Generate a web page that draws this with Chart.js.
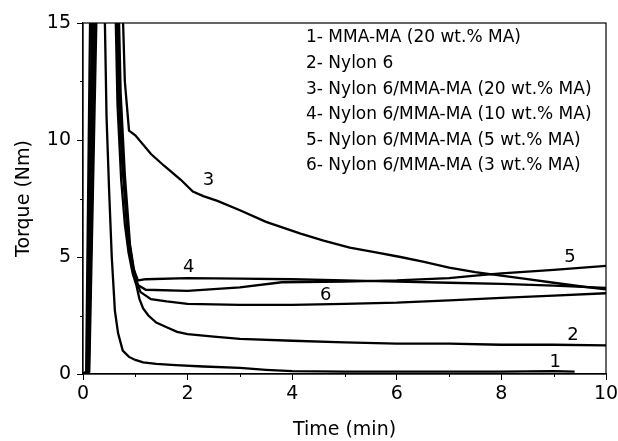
<!DOCTYPE html>
<html>
<head>
<meta charset="utf-8">
<script src="https://cdn.jsdelivr.net/npm/chart.js@4.4.1/dist/chart.umd.min.js"></script>
<style>
  body { margin: 0; background: #fff; }
  canvas { display: block; }
</style>
</head>
<body>
<canvas id="torqueChart" width="618" height="441"></canvas>
<script>
// series: time (min) and torque (Nm)
const time1 = [0, 0.06, 0.16, 0.38, 0.45, 0.5, 0.55, 0.61, 0.67, 0.76, 0.88, 1.0, 1.15, 1.4, 1.77, 2.3, 3, 3.5, 4, 5, 6, 7, 8, 9, 9.4];
const torque1 = [0, 0.1, 20, 20, 11, 7.8, 5.0, 2.7, 1.75, 1.0, 0.73, 0.6, 0.5, 0.43, 0.38, 0.32, 0.26, 0.18, 0.12, 0.1, 0.1, 0.1, 0.1, 0.12, 0.1];

const time2 = [0, 0.08, 0.2, 0.58, 0.66, 0.73, 0.8, 0.87, 0.95, 1.02, 1.08, 1.15, 1.25, 1.4, 1.6, 1.8, 2.0, 2.5, 3, 4, 5, 6, 7, 8, 9, 10];
const torque2 = [0, 0.1, 20, 20, 11.5, 8.3, 6.4, 5.2, 4.3, 3.8, 3.2, 2.8, 2.5, 2.2, 2.0, 1.8, 1.7, 1.6, 1.5, 1.42, 1.35, 1.3, 1.3, 1.25, 1.25, 1.22];

const time3 = [0, 0.12, 0.3, 0.7, 0.8, 0.88, 1.0, 1.3, 1.55, 1.87, 2.1, 2.3, 2.57, 3.0, 3.5, 4.16, 4.6, 5.1, 5.6, 6.07, 6.5, 7.0, 7.5, 8.0, 8.5, 9.0, 9.5, 10];
const torque3 = [0, 0.1, 20, 20, 12.5, 10.4, 10.2, 9.4, 8.9, 8.3, 7.8, 7.6, 7.4, 7.0, 6.5, 6.0, 5.7, 5.4, 5.2, 5.0, 4.8, 4.55, 4.35, 4.2, 4.05, 3.9, 3.75, 3.62];

const time4 = [0, 0.1, 0.26, 0.6, 0.68, 0.75, 0.85, 0.95, 1.05, 1.2, 2, 3, 4, 5, 6, 7, 8, 9, 10];
const torque4 = [0, 0.1, 20, 20, 12, 9, 6, 4.6, 4.0, 4.05, 4.1, 4.08, 4.05, 4.0, 3.95, 3.9, 3.85, 3.78, 3.68];

const time5 = [0, 0.09, 0.23, 0.62, 0.7, 0.77, 0.87, 0.97, 1.05, 1.2, 2, 3, 3.8, 5, 6, 7, 7.5, 8, 9, 10];
const torque5 = [0, 0.1, 20, 20, 12, 9, 5.8, 4.4, 3.8, 3.6, 3.55, 3.7, 3.92, 3.95, 4.0, 4.1, 4.2, 4.3, 4.45, 4.62];

const time6 = [0, 0.11, 0.28, 0.64, 0.72, 0.8, 0.9, 1.0, 1.1, 1.3, 1.6, 2, 3, 4, 5, 6, 7, 8, 9, 10];
const torque6 = [0, 0.1, 20, 20, 12, 8.5, 5.5, 4.1, 3.5, 3.2, 3.1, 3.0, 2.95, 2.95, 3.0, 3.05, 3.15, 3.25, 3.35, 3.45];

const seriesNames = [
    '1- MMA-MA (20 wt.% MA)',
    '2- Nylon 6',
    '3- Nylon 6/MMA-MA (20 wt.% MA)',
    '4- Nylon 6/MMA-MA (10 wt.% MA)',
    '5- Nylon 6/MMA-MA (5 wt.% MA)',
    '6- Nylon 6/MMA-MA (3 wt.% MA)'
];

// numbers written next to the curves
const curveTags = ['1', '2', '3', '4', '5', '6'];
const tagTime = [9.03, 9.37, 2.40, 2.02, 9.31, 4.64];
const tagTorque = [0.51, 1.67, 8.29, 4.57, 5.0, 3.38];

const xMinorTicks = [1, 3, 5, 7, 9];
const yMinorTicks = [2.5, 7.5, 12.5];

const FONT = "'DejaVu Sans', sans-serif";

function toPoints(xs, ys) {
    return xs.map((x, i) => ({ x: x, y: ys[i] }));
}

const allTimes = [time1, time2, time3, time4, time5, time6];
const allTorques = [torque1, torque2, torque3, torque4, torque5, torque6];

const datasets = allTimes.map((t, i) => ({
    label: seriesNames[i],
    data: toPoints(t, allTorques[i]),
    borderColor: '#000',
    borderWidth: 2.3,
    pointRadius: 0,
    tension: 0,
    fill: false
}));

// frame, minor ticks, in-plot legend and curve numbers
const decorations = {
    id: 'decorations',
    afterDraw(chart) {
        const ctx = chart.ctx;
        const area = chart.chartArea;
        const xs = chart.scales.x;
        const ys = chart.scales.y;

        ctx.save();
        ctx.strokeStyle = '#000';
        ctx.lineWidth = 1.2;
        ctx.strokeRect(area.left, area.top, area.right - area.left, area.bottom - area.top);

        ctx.lineWidth = 1;
        ctx.beginPath();
        xMinorTicks.forEach(v => {
            const px = Math.round(xs.getPixelForValue(v)) + 0.5;
            ctx.moveTo(px, area.bottom);
            ctx.lineTo(px, area.bottom + 3);
        });
        yMinorTicks.forEach(v => {
            const py = Math.round(ys.getPixelForValue(v)) + 0.5;
            ctx.moveTo(area.left, py);
            ctx.lineTo(area.left - 3, py);
        });
        ctx.stroke();

        ctx.fillStyle = '#000';
        ctx.textBaseline = 'middle';
        ctx.textAlign = 'left';
        ctx.font = '17px ' + FONT;
        chart.data.datasets.forEach((ds, i) => {
            ctx.fillText(ds.label, 306, 38 + i * 25.6);
        });

        ctx.textAlign = 'center';
        ctx.font = '18px ' + FONT;
        curveTags.forEach((tag, i) => {
            ctx.fillText(tag, xs.getPixelForValue(tagTime[i]), ys.getPixelForValue(tagTorque[i]));
        });
        ctx.restore();
    }
};

new Chart(document.getElementById('torqueChart'), {
    type: 'line',
    data: { datasets },
    options: {
        responsive: false,
        animation: false,
        layout: { padding: { left: 13, right: 12, top: 23, bottom: 0 } },
        plugins: {
            legend: { display: false },
            tooltip: { enabled: false }
        },
        scales: {
            x: {
                type: 'linear',
                min: 0,
                max: 10,
                afterFit: scale => {
                    scale.height = 67;
                    scale.paddingLeft = 0;
                    scale.paddingRight = 0;
                },
                ticks: {
                    stepSize: 2,
                    color: '#000',
                    padding: 3,
                    font: { family: FONT, size: 19 }
                },
                grid: { drawOnChartArea: false, tickLength: 6, color: '#000' },
                border: { display: true, color: '#000', width: 1.2 },
                title: {
                    display: true,
                    text: 'Time (min)',
                    color: '#000',
                    font: { family: FONT, size: 19 },
                    padding: { top: 4, bottom: 0 }
                }
            },
            y: {
                min: 0,
                max: 15,
                afterFit: scale => { scale.width = 70; },
                ticks: {
                    stepSize: 5,
                    color: '#000',
                    padding: 6,
                    font: { family: FONT, size: 19 }
                },
                grid: { drawOnChartArea: false, tickLength: 6, color: '#000' },
                border: { display: true, color: '#000', width: 1.2 },
                title: {
                    display: true,
                    text: 'Torque (Nm)',
                    color: '#000',
                    font: { family: FONT, size: 19 },
                    padding: 0
                }
            }
        }
    },
    plugins: [decorations]
});
</script>
</body>
</html>
